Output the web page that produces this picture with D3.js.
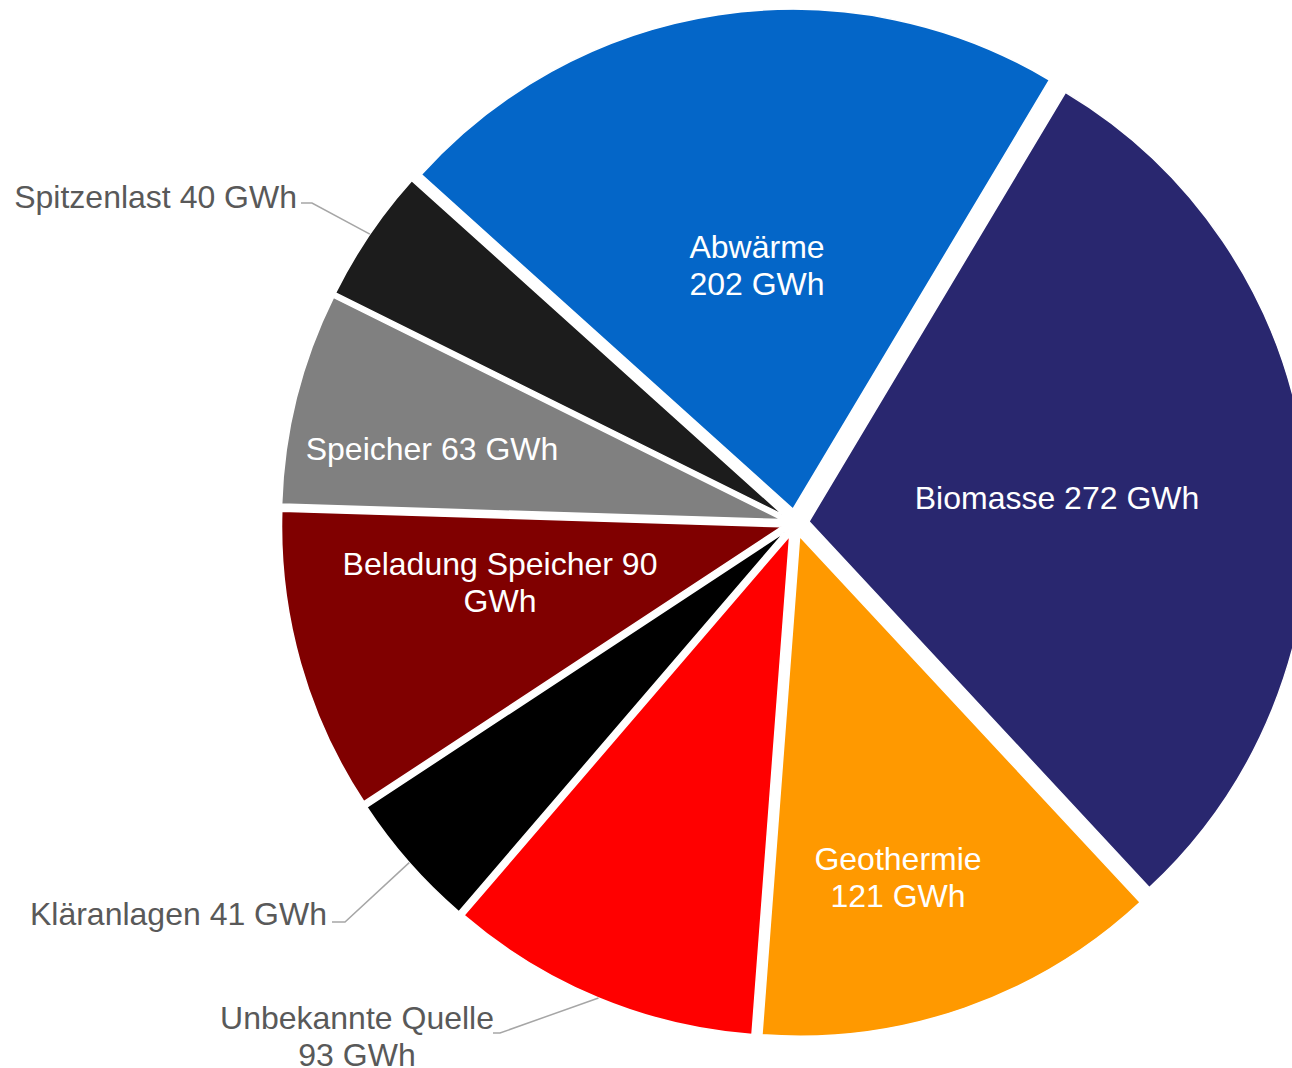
<!DOCTYPE html>
<html>
<head>
<meta charset="utf-8">
<script src="https://cdn.jsdelivr.net/npm/d3@7/dist/d3.min.js"></script>
<style>
  html, body { margin: 0; padding: 0; background: #ffffff; }
  svg { display: block; }
  text { font-family: "Liberation Sans", Arial, sans-serif; }
</style>
</head>
<body>
<script>
// ---- data ----
const categories = ["Abwärme", "Biomasse", "Geothermie", "Unbekannte Quelle", "Kläranlagen", "Beladung Speicher", "Speicher", "Spitzenlast"];
const values = [202, 272, 121, 93, 41, 90, 63, 40];
const unit = "GWh";

// ---- styles / layout (not data) ----
const colors = ["#0466C8", "#29276F", "#FF9900", "#FF0000", "#000000", "#800000", "#808080", "#1C1C1C"];
// words on first line of label (rest goes to second line); 0 = single line
const firstLineWords = [1, 0, 1, 2, 0, 3, 0, 0];
// label placement: inside labels centred at (x,y); outside labels with leader
const labelLayout = [
  { inside: true,  x: 757,  y: 264.5 },
  { inside: true,  x: 1057, y: 497 },
  { inside: true,  x: 898,  y: 877 },
  { inside: false, x: 357,  y: 1035.5, anchor: "middle", leader: [[493, 1033], [500, 1033]] },
  { inside: false, x: 327,  y: 913,    anchor: "end",    leader: [[332, 922], [345, 922]] },
  { inside: true,  x: 500,  y: 581.5 },
  { inside: true,  x: 432,  y: 448 },
  { inside: false, x: 297,  y: 196,    anchor: "end",    leader: [[301, 203], [312, 203]] }
];

const W = 1292, H = 1068;
const cx = 795, cy = 523, R = 500, explode = 14;
const fontSize = 32, lineH = 37;

const svg = d3.select("body").append("svg").attr("width", W).attr("height", H);

const pie = d3.pie().sort(null).startAngle(-48 * Math.PI / 180).endAngle((360 - 48) * Math.PI / 180);
const arcs = pie(values);
const arc = d3.arc().innerRadius(0).outerRadius(R);

const g = svg.append("g").attr("transform", `translate(${cx},${cy})`);

arcs.forEach((a, i) => {
  const mid = (a.startAngle + a.endAngle) / 2;
  const ox = Math.sin(mid) * explode, oy = -Math.cos(mid) * explode;
  g.append("path")
    .attr("d", arc(a))
    .attr("transform", `translate(${ox},${oy})`)
    .attr("fill", colors[i])
    .attr("stroke", "#ffffff")
    .attr("stroke-width", 1.5)
    .attr("stroke-linejoin", "miter");
});

// labels
arcs.forEach((a, i) => {
  const L = labelLayout[i];
  const words = `${categories[i]} ${values[i]} ${unit}`.split(" ");
  const lines = firstLineWords[i] > 0
    ? [words.slice(0, firstLineWords[i]).join(" "), words.slice(firstLineWords[i]).join(" ")]
    : [words.join(" ")];
  const y0 = L.y - (lines.length - 1) * lineH / 2;
  const t = svg.append("text")
    .attr("font-size", fontSize)
    .attr("fill", L.inside ? "#ffffff" : "#595959")
    .attr("text-anchor", L.inside ? "middle" : L.anchor);
  lines.forEach((ln, k) => {
    t.append("tspan").attr("x", L.x).attr("y", y0 + k * lineH).attr("dy", "0.36em").text(ln);
  });
  if (!L.inside) {
    const mid = (a.startAngle + a.endAngle) / 2;
    const rr = R + explode;
    const px = cx + Math.sin(mid) * rr, py = cy - Math.cos(mid) * rr;
    const pts = L.leader.concat([[px, py]]);
    svg.append("path")
      .attr("d", d3.line()(pts))
      .attr("fill", "none")
      .attr("stroke", "#A6A6A6")
      .attr("stroke-width", 1.5);
  }
});
</script>
</body>
</html>
